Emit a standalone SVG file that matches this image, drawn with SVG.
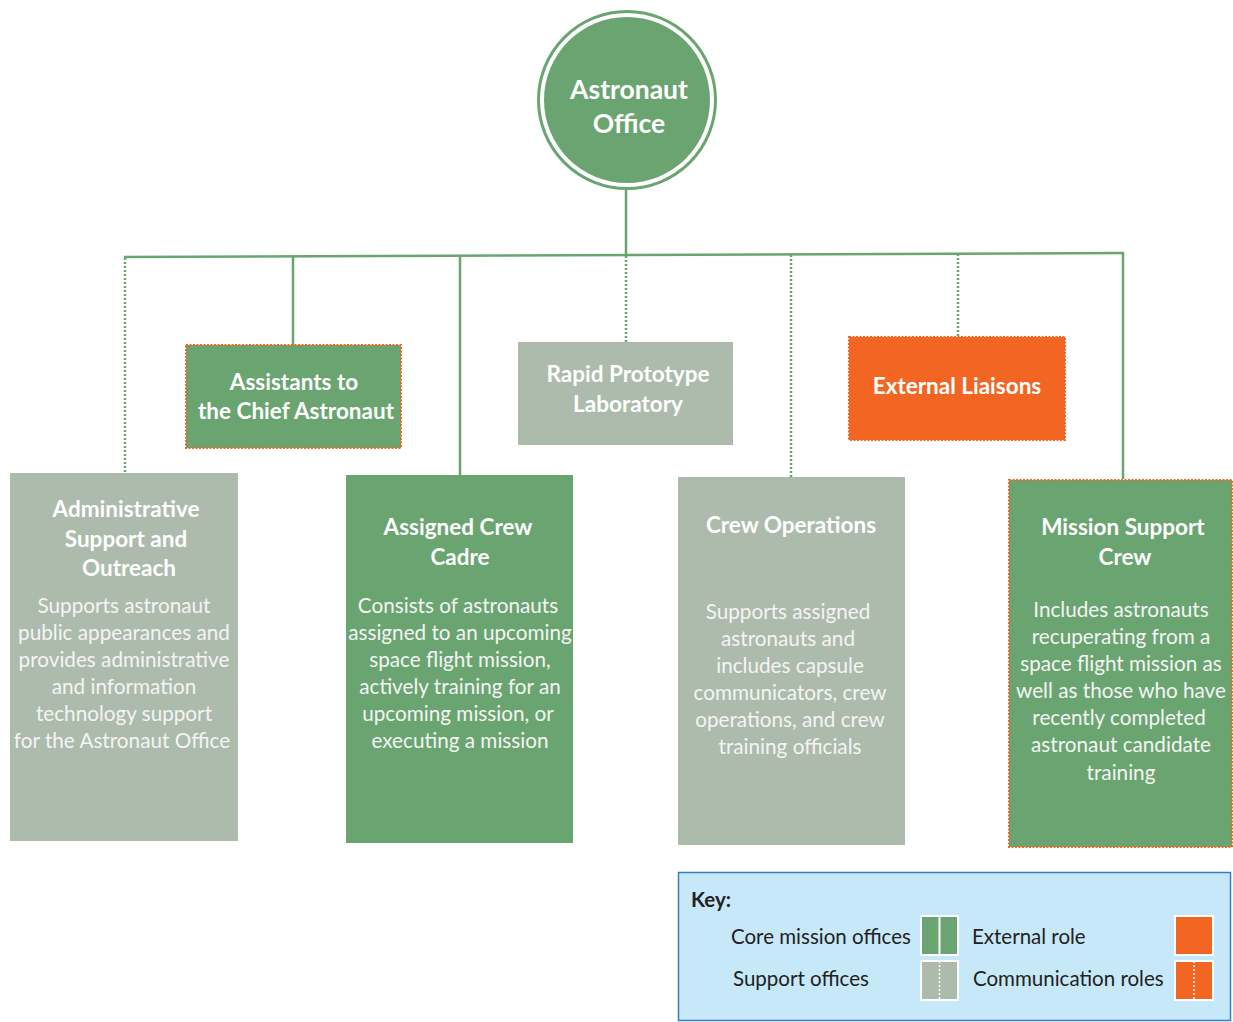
<svg xmlns="http://www.w3.org/2000/svg" width="1233" height="1022" viewBox="0 0 1233 1022">
<style>
.green{fill:#6aa571}
.gray{fill:#adbbad}
.orange{fill:#f26522}
.comm{stroke:#f26522;stroke-width:2;stroke-dasharray:2 1.5}
.t{font-family:Lato,"Open Sans",sans-serif;fill:#ffffff;text-anchor:middle}
.title{font-size:22.5px;font-weight:bold}
.body{font-size:20.7px;fill:#f4f4f4}
.k{font-family:Lato,"Open Sans",sans-serif;font-size:20.5px;fill:#222222}
.solid{stroke:#6aa571;stroke-width:2.5;fill:none}
.dot{stroke:#6aa571;stroke-width:2.5;fill:none;stroke-dasharray:2 2}
</style>
<rect width="1233" height="1022" fill="#ffffff"/>

<g id="connectors">
<line class="solid" x1="626" y1="190" x2="626" y2="255"/>
<line class="solid" x1="124" y1="257" x2="1124" y2="253"/>
<line class="dot" x1="125" y1="258" x2="125" y2="473"/>
<line class="solid" x1="293" y1="257" x2="293" y2="345"/>
<line class="solid" x1="460" y1="256" x2="460" y2="475"/>
<line class="dot" x1="626" y1="256" x2="626" y2="342"/>
<line class="dot" x1="791" y1="255" x2="791" y2="477"/>
<line class="dot" x1="958" y1="254" x2="958" y2="336"/>
<line class="solid" x1="1123" y1="253" x2="1123" y2="479"/>
</g>

<g id="astronaut-office">
<circle cx="627" cy="100" r="88.5" fill="none" stroke="#6aa571" stroke-width="3"/>
<circle cx="627" cy="100" r="83" class="green"/>
<text class="t" font-size="26.5" font-weight="bold" x="629" y="99">Astronaut</text>
<text class="t" font-size="26.5" font-weight="bold" x="629" y="133">Office</text>
</g>

<g id="assistants">
<rect x="186" y="345" width="215" height="103" class="green comm"/>
<text class="t title" x="294" y="390">Assistants to</text>
<text class="t title" x="296" y="419">the Chief Astronaut</text>
</g>

<g id="rapid-prototype">
<rect x="518" y="342" width="215" height="103" class="gray"/>
<text class="t title" x="628" y="382">Rapid Prototype</text>
<text class="t title" x="628" y="412">Laboratory</text>
</g>

<g id="external-liaisons">
<rect x="849" y="337" width="216" height="103" class="orange comm"/>
<text class="t title" x="957" y="394">External Liaisons</text>
</g>

<g id="admin-support">
<rect x="10" y="473" width="228" height="368" class="gray"/>
<text class="t title" x="126" y="517">Administrative</text>
<text class="t title" x="126" y="547">Support and</text>
<text class="t title" x="129" y="576">Outreach</text>
<text class="t body" x="124" y="613">Supports astronaut</text>
<text class="t body" x="124" y="640">public appearances and</text>
<text class="t body" x="124" y="667">provides administrative</text>
<text class="t body" x="124" y="694">and information</text>
<text class="t body" x="124" y="721">technology support</text>
<text class="t body" x="122" y="748">for the Astronaut Office</text>
</g>

<g id="assigned-crew">
<rect x="346" y="475" width="227" height="368" class="green"/>
<text class="t title" x="458" y="535">Assigned Crew</text>
<text class="t title" x="460" y="565">Cadre</text>
<text class="t body" x="458" y="613">Consists of astronauts</text>
<text class="t body" x="460" y="640">assigned to an upcoming</text>
<text class="t body" x="460" y="667">space flight mission,</text>
<text class="t body" x="460" y="694">actively training for an</text>
<text class="t body" x="458" y="721">upcoming mission, or</text>
<text class="t body" x="460" y="748">executing a mission</text>
</g>

<g id="crew-operations">
<rect x="678" y="477" width="227" height="368" class="gray"/>
<text class="t title" x="791" y="533">Crew Operations</text>
<text class="t body" x="788" y="619">Supports assigned</text>
<text class="t body" x="788" y="646">astronauts and</text>
<text class="t body" x="790" y="673">includes capsule</text>
<text class="t body" x="790" y="700">communicators, crew</text>
<text class="t body" x="790" y="727">operations, and crew</text>
<text class="t body" x="790" y="754">training officials</text>
</g>

<g id="mission-support">
<rect x="1009" y="480" width="223" height="367" class="green comm"/>
<text class="t title" x="1123" y="535">Mission Support</text>
<text class="t title" x="1125" y="565">Crew</text>
<text class="t body" x="1121" y="617">Includes astronauts</text>
<text class="t body" x="1121" y="644">recuperating from a</text>
<text class="t body" x="1121" y="671">space flight mission as</text>
<text class="t body" x="1121" y="698">well as those who have</text>
<text class="t body" x="1119" y="725">recently completed</text>
<text class="t body" x="1121" y="752">astronaut candidate</text>
<text class="t body" x="1121" y="780">training</text>
</g>

<g id="key">
<rect x="678.5" y="872.5" width="552" height="148" fill="#c7e8f8" stroke="#3a7cc0" stroke-width="1.5"/>
<text class="k" x="691" y="907" font-weight="bold">Key:</text>
<text class="k" x="731" y="944">Core mission offices</text>
<text class="k" x="733" y="986">Support offices</text>
<text class="k" x="972" y="944">External role</text>
<text class="k" x="973" y="986">Communication roles</text>
<rect x="921" y="916" width="37" height="39" class="green" stroke="#ffffff" stroke-width="2"/>
<line x1="939.5" y1="916" x2="939.5" y2="955" stroke="#ffffff" stroke-width="2"/>
<rect x="921" y="961" width="37" height="39" class="gray" stroke="#ffffff" stroke-width="2"/>
<line x1="939.5" y1="961" x2="939.5" y2="1000" stroke="#ffffff" stroke-width="1.5" stroke-dasharray="2 2"/>
<rect x="1175" y="916" width="38" height="39" class="orange" stroke="#ffffff" stroke-width="2"/>
<rect x="1175" y="961" width="38" height="39" class="orange" stroke="#ffffff" stroke-width="2"/>
<line x1="1194" y1="961" x2="1194" y2="1000" stroke="#ffffff" stroke-width="1.5" stroke-dasharray="2 2"/>
</g>
</svg>
